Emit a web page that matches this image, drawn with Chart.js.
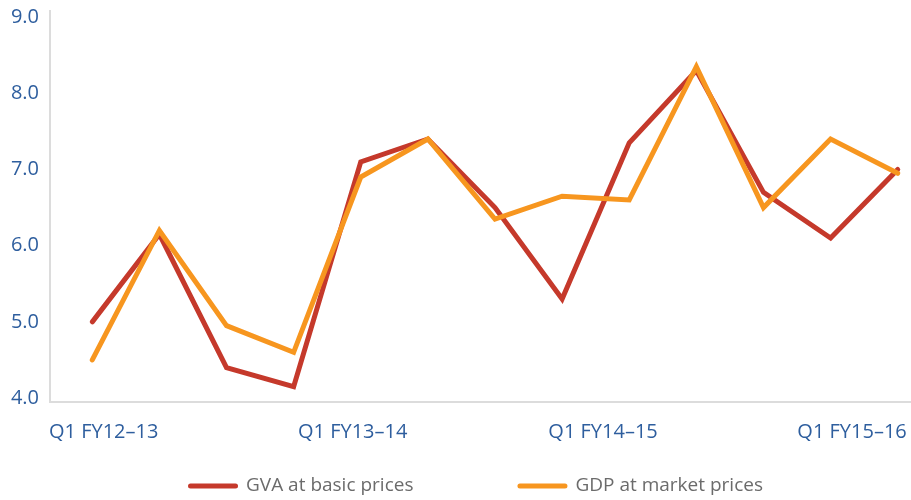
<!DOCTYPE html>
<html>
<head>
	<meta http-equiv="Content-Type" content="text/html; charset=utf-8"/>
	<script type="text/javascript" src="https://cdn.jsdelivr.net/npm/chart.js@4/dist/chart.umd.min.js"></script>
	<style type="text/css">
		html, body { margin: 0; padding: 0; background: #fff; }
		#box { width: 911px; height: 500px; }
	</style>
</head>
<body>
	<div id="box">
		<canvas id="chart" width="911" height="500"></canvas>
	</div>
	<script type="text/javascript">
		// quarters Q1 FY12-13 .. Q1 FY15-16
		var quarters = ["Q1 FY12–13","Q2 FY12–13","Q3 FY12–13","Q4 FY12–13",
			"Q1 FY13–14","Q2 FY13–14","Q3 FY13–14","Q4 FY13–14",
			"Q1 FY14–15","Q2 FY14–15","Q3 FY14–15","Q4 FY14–15","Q1 FY15–16"];
		var gva = [5.0, 6.15, 4.4, 4.15, 7.1, 7.4, 6.5, 5.3, 7.35, 8.3, 6.7, 6.1, 7.0];
		var gdp = [4.5, 6.2, 4.95, 4.6, 6.9, 7.4, 6.35, 6.65, 6.6, 8.35, 6.5, 7.4, 6.95];
		var xTickLabels = ["Q1 FY12–13","Q1 FY13–14","Q1 FY14–15","Q1 FY15–16"];
		var xTickAt = [0.17, 3.88, 7.61, 11.32];
		var yTicks = [4, 5, 6, 7, 8, 9];

		var fontFam = "'Open Sans', sans-serif";

		function puntos(serie){
			var out = [];
			for (var i = 0; i < serie.length; i++) {
				out.push({x: i, y: serie[i]});
			}
			return out;
		}

		// leyenda dibujada a mano para controlar los espacios
		var leyenda = {
			id: "leyenda",
			afterDraw: function(chart){
				var ctx = chart.ctx;
				var sets = chart.data.datasets;
				ctx.save();
				ctx.font = "19px " + fontFam;
				var total = 0;
				for (var k = 0; k < sets.length; k++) {
					total += 50 + 8 + ctx.measureText(sets[k].label).width;
				}
				total += 104 * (sets.length - 1);
				var x = 475.5 - total / 2;
				var y = 486;
				for (var k = 0; k < sets.length; k++) {
					var ds = sets[k];
					ctx.strokeStyle = ds.borderColor;
					ctx.lineWidth = 5;
					ctx.lineCap = "round";
					ctx.beginPath();
					ctx.moveTo(x + 2.5, y);
					ctx.lineTo(x + 47.5, y);
					ctx.stroke();
					ctx.fillStyle = "#6b6b6b";
					ctx.textBaseline = "middle";
					ctx.fillText(ds.label, x + 58, y);
					x += 58 + ctx.measureText(ds.label).width + 104;
				}
				ctx.restore();
			}
		};

		var canvas = document.getElementById("chart").getContext("2d");
		window.linea = new Chart(canvas, {
			type: "line",
			data: {
				datasets: [{
					label: "GVA at basic prices",
					data: puntos(gva),
					borderColor: "#c5392b",
					borderWidth: 5,
					borderCapStyle: "round",
					pointRadius: 0,
					tension: 0,
					order: 1
				}, {
					label: "GDP at market prices",
					data: puntos(gdp),
					borderColor: "#f7961f",
					borderWidth: 5,
					borderCapStyle: "round",
					pointRadius: 0,
					tension: 0,
					order: 0
				}]
			},
			options: {
				responsive: false,
				animation: false,
				layout: { padding: { top: 11, right: 0, bottom: 38.5, left: 0 } },
				plugins: {
					legend: { display: false },
					tooltip: { enabled: false }
				},
				scales: {
					x: {
						type: "linear",
						min: -0.63,
						max: 12.198,
						grid: { display: false, drawTicks: false },
						border: { display: true, color: "#dcdcdc", width: 2 },
						afterBuildTicks: function(axis){
							axis.ticks = xTickAt.map(function(v){ return {value: v}; });
						},
						afterFit: function(axis){
							axis.height = 60;
							axis.paddingLeft = 0;
							axis.paddingRight = 0;
						},
						ticks: {
							autoSkip: false,
							maxRotation: 0,
							padding: 19,
							color: "#2e5e9e",
							font: { family: fontFam, size: 20 },
							callback: function(v, i){ return xTickLabels[i]; }
						}
					},
					y: {
						min: 3.955,
						max: 9.08,
						grid: { display: false, drawTicks: false },
						border: { display: true, color: "#dcdcdc", width: 2 },
						afterBuildTicks: function(axis){
							axis.ticks = yTicks.map(function(v){ return {value: v}; });
						},
						afterFit: function(axis){
							axis.width = 50;
							axis.paddingTop = 0;
							axis.paddingBottom = 0;
						},
						ticks: {
							padding: 11,
							color: "#2e5e9e",
							font: { family: fontFam, size: 20 },
							callback: function(v){ return v.toFixed(1); }
						}
					}
				}
			},
			plugins: [leyenda]
		});
	</script>
</body>
</html>
